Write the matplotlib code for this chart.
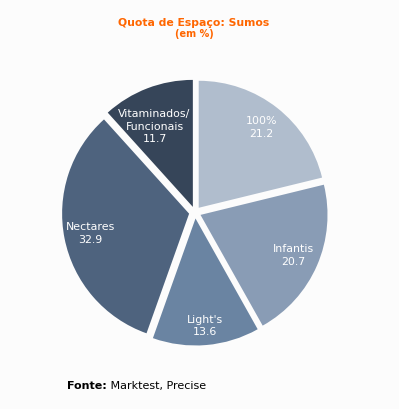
import numpy as np
import matplotlib.pyplot as plt

categories = ["100%", "Infantis", "Light's", "Nectares", "Vitaminados/\nFuncionais"]
values = [21.2, 20.7, 13.6, 32.9, 11.7]
colors = ["#b0bdcd", "#899cb5", "#6a84a2", "#4e637e", "#364559"]
label_dist = [0.80, 0.80, 0.85, 0.79, 0.70]
label_turn = [0, 0, 0, 0, 4.5]  # degrees, nudges a label along the arc

W, H = 399, 409
fig = plt.figure(figsize=(W / 100, H / 100), dpi=100, facecolor="#fcfcfc")
ax = fig.add_axes([0, 0, 1, 1])
ax.set_facecolor("#fcfcfc")

# pie drawn in pixel units so the gap (explode) is in pixels too
cx, cy, r = 195, H - 212.5, 127
wedges, _ = ax.pie(values, colors=colors, startangle=90, counterclock=False,
                   explode=[6] * len(values), radius=r, center=(cx, cy),
                   wedgeprops=dict(linewidth=0))

for w, cat, val, d, turn in zip(wedges, categories, values, label_dist, label_turn):
    mid = np.deg2rad((w.theta1 + w.theta2) / 2 + turn)
    x0, y0 = w.center
    ax.text(x0 + d * r * np.cos(mid), y0 + d * r * np.sin(mid),
            f"{cat}\n{val:.1f}", color="white", fontsize=7.9,
            ha="center", va="center", linespacing=1.35)

ax.set_xlim(0, W)
ax.set_ylim(0, H)
ax.set_aspect("auto")
ax.axis("off")

fig.text(194 / W, 1 - 23 / H, "Quota de Espaço: Sumos", color="#ff6600",
         fontsize=7.8, fontweight="bold", ha="center", va="center")
fig.text(194 / W, 1 - 34 / H, "(em %)", color="#ff6600",
         fontsize=7, fontweight="bold", ha="center", va="center")

src = fig.text(67 / W, 1 - 386 / H, "Fonte:", color="black", fontsize=8,
               fontweight="bold", ha="left", va="center")
ax.annotate(" Marktest, Precise", xy=(1, 0), xycoords=src, fontsize=8,
            color="black", ha="left", va="bottom")

fig.savefig("out.png", dpi=100, facecolor=fig.get_facecolor())
